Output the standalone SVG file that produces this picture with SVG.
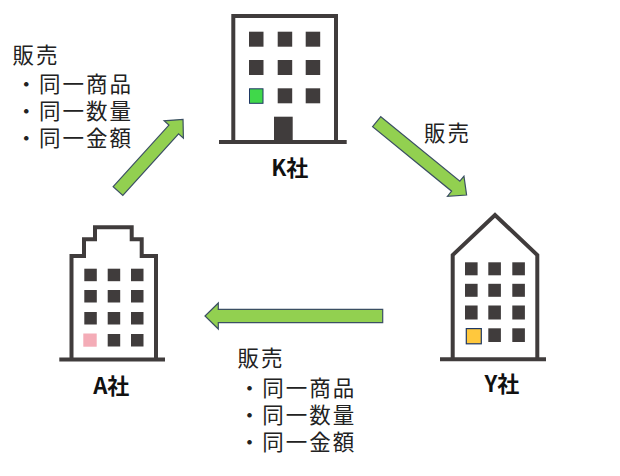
<svg xmlns="http://www.w3.org/2000/svg" width="620" height="476" viewBox="0 0 620 476">
<style>
.wall{fill:#ffffff;stroke:#403c3c;stroke-width:4;stroke-linejoin:miter}
.ground{stroke:#403c3c;stroke-width:4}
.win{fill:#403c3c}
.arrow{fill:#92d050;stroke:#3b4f63;stroke-width:1.2;stroke-linejoin:miter}
.lbl{font-family:"Noto Sans CJK JP","Noto Sans",sans-serif;font-size:22px;font-weight:bold;fill:#111;text-anchor:middle}
.txt{font-family:"Noto Sans CJK JP","Noto Sans",sans-serif;font-size:21.5px;letter-spacing:2px;fill:#222}
</style>
<g id="connectors">
<path class="arrow" transform="translate(382.7,316) rotate(180)" d="M0,-6.7 L164.4,-6.7 L164.4,-13 L177.7,0 L164.4,13 L164.4,6.7 L0,6.7 Z"/>
<path class="arrow" transform="translate(118,191) rotate(-47.8)" d="M0,-6.5 L83,-6.5 L83,-13 L96.8,0 L83,13 L83,6.5 L0,6.5 Z"/>
<path class="arrow" transform="translate(376.7,121.7) rotate(39.2)" d="M0,-6.5 L102,-6.5 L102,-13 L116,0 L102,13 L102,6.5 L0,6.5 Z"/>
</g>
<g id="K">
<rect class="wall" x="233.3" y="16" width="102.7" height="126"/>
<line class="ground" x1="219" y1="142" x2="346.7" y2="142"/>
<rect class="win" x="249" y="31.7" width="14.5" height="15"/>
<rect class="win" x="277.7" y="31.7" width="14.5" height="15"/>
<rect class="win" x="305.7" y="31.7" width="14.5" height="15"/>
<rect class="win" x="249" y="60" width="14.5" height="15"/>
<rect class="win" x="277.7" y="60" width="14.5" height="15"/>
<rect class="win" x="305.7" y="60" width="14.5" height="15"/>
<rect x="249.5" y="88.8" width="13.5" height="14.5" fill="#40d84a" stroke="#1f3864" stroke-width="1"/>
<rect class="win" x="277.7" y="88.3" width="14.5" height="15"/>
<rect class="win" x="305.7" y="88.3" width="14.5" height="15"/>
<rect class="win" x="274" y="116.7" width="18.7" height="25"/>
<text class="lbl" x="289.7" y="176">K社</text>
</g>
<g id="A">
<path class="wall" stroke-width="3.5" d="M71.5,359.5 L71.5,256 L84,256 L84,239.3 L95,239.3 L95,227.3 L131.7,227.3 L131.7,239.3 L141.7,239.3 L141.7,256 L156,256 L156,359.5"/>
<line class="ground" x1="59.3" y1="359.5" x2="165" y2="359.5"/>
<rect class="win" x="84.3" y="268.7" width="12.5" height="12.5"/>
<rect class="win" x="107.7" y="268.7" width="12.5" height="12.5"/>
<rect class="win" x="131" y="268.7" width="12.5" height="12.5"/>
<rect class="win" x="84.3" y="290" width="12.5" height="12.5"/>
<rect class="win" x="107.7" y="290" width="12.5" height="12.5"/>
<rect class="win" x="131" y="290" width="12.5" height="12.5"/>
<rect class="win" x="84.3" y="312" width="12.5" height="12.5"/>
<rect class="win" x="107.7" y="312" width="12.5" height="12.5"/>
<rect class="win" x="131" y="312" width="12.5" height="12.5"/>
<rect x="83.3" y="333.5" width="13.4" height="13.2" fill="#f4acb7"/>
<rect class="win" x="107.7" y="334" width="12.5" height="12.5"/>
<rect class="win" x="131" y="334" width="12.5" height="12.5"/>
<text class="lbl" x="111.3" y="394">A社</text>
</g>
<g id="Y">
<path class="wall" d="M452.7,359.3 L452.7,255 L495,215 L537.3,255 L537.3,359.3"/>
<line class="ground" x1="440" y1="359.3" x2="546" y2="359.3"/>
<rect class="win" x="465" y="262.3" width="12.6" height="13"/>
<rect class="win" x="488.3" y="262.3" width="12.6" height="13"/>
<rect class="win" x="512.3" y="262.3" width="12.6" height="13"/>
<rect class="win" x="465" y="283.8" width="12.6" height="13"/>
<rect class="win" x="488.3" y="283.8" width="12.6" height="13"/>
<rect class="win" x="512.3" y="283.8" width="12.6" height="13"/>
<rect class="win" x="465" y="305.5" width="12.6" height="14"/>
<rect class="win" x="488.3" y="305.5" width="12.6" height="14"/>
<rect class="win" x="512.3" y="305.5" width="12.6" height="14"/>
<rect x="466.3" y="328.6" width="15" height="15.2" fill="#ffc83d" stroke="#1f3864" stroke-width="1.2"/>
<rect class="win" x="488.3" y="328.3" width="12.6" height="13.7"/>
<rect class="win" x="512.3" y="328.3" width="12.6" height="13.7"/>
<text class="lbl" x="502" y="392">Y社</text>
</g>
<g id="text-AK">
<text class="txt"><tspan x="12.5" y="62.5">販売</tspan><tspan x="15.5" y="92">・同一商品</tspan><tspan x="15.5" y="118.7">・同一数量</tspan><tspan x="15.5" y="146">・同一金額</tspan></text>
</g>
<g id="text-KY">
<text class="txt" x="424" y="141">販売</text>
</g>
<g id="text-YA">
<text class="txt"><tspan x="237.5" y="366">販売</tspan><tspan x="238.8" y="396">・同一商品</tspan><tspan x="238.8" y="422.7">・同一数量</tspan><tspan x="238.8" y="450">・同一金額</tspan></text>
</g>
</svg>
